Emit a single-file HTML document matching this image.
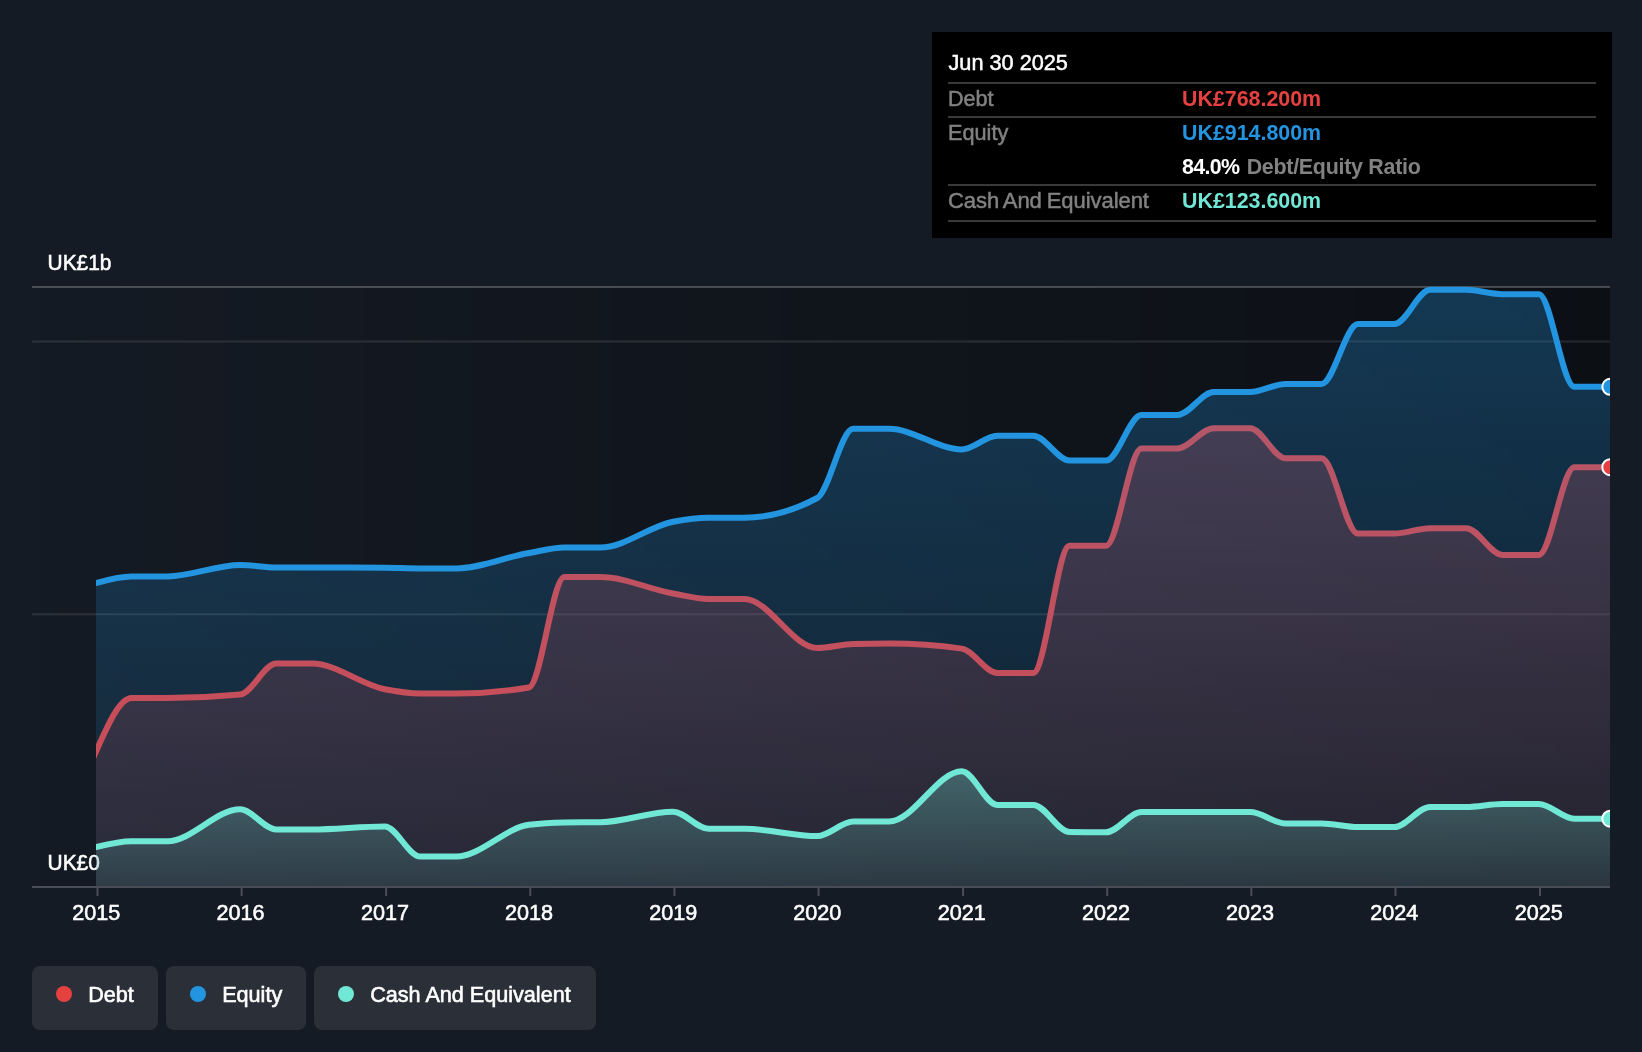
<!DOCTYPE html>
<html><head><meta charset="utf-8"><title>Debt to equity history</title>
<style>
html,body{margin:0;padding:0;}
body{width:1642px;height:1052px;background:#151b24;overflow:hidden;position:relative;
font-family:"Liberation Sans",sans-serif;color:#fff;}
svg{position:absolute;left:0;top:0;}
.xl{position:absolute;top:900.5px;width:100px;text-align:center;font-size:21.6px;line-height:24px;
-webkit-text-stroke:0.55px #fff;}
.ylt{font-family:"Liberation Sans",sans-serif;font-size:21.9px;fill:#fff;stroke:#fff;stroke-width:0.55px;}
#tip{position:absolute;left:932px;top:32px;width:680px;height:206px;background:#000;}
#tip .sep{position:absolute;left:16px;width:648px;height:2px;background:#393939;}
#tip .r{position:absolute;white-space:nowrap;font-size:22px;line-height:24px;}
#tip .lab{left:16px;color:#828282;-webkit-text-stroke:0.5px #828282;}
#tip .val{left:250px;font-weight:bold;font-size:21.4px;}
.lg{position:absolute;top:966px;height:64px;background:#2b3038;border-radius:8px;}
.lg i{position:absolute;left:24px;top:20px;width:16px;height:16px;border-radius:50%;}
.lg span{position:absolute;left:56.2px;top:17px;font-size:21.6px;line-height:24px;white-space:nowrap;-webkit-text-stroke:0.6px #fff;}
#layer{position:absolute;left:0;top:0;width:1642px;height:1052px;will-change:transform;}
</style></head><body>
<div id="layer">
<svg width="1642" height="1052" viewBox="0 0 1642 1052">
<defs>
<linearGradient id="plotbg" x1="0" y1="0" x2="1" y2="0">
<stop offset="0" stop-color="#000" stop-opacity="0"/>
<stop offset="1" stop-color="#000" stop-opacity="0.4"/>
</linearGradient>
<linearGradient id="g_debt" x1="0" y1="0" x2="0" y2="1">
<stop offset="0" stop-color="#e64141" stop-opacity="0.3"/>
<stop offset="1" stop-color="#e64141" stop-opacity="0.1"/>
</linearGradient>
<linearGradient id="g_eq" x1="0" y1="0" x2="0" y2="1">
<stop offset="0" stop-color="#2394df" stop-opacity="0.3"/>
<stop offset="1" stop-color="#2394df" stop-opacity="0.1"/>
</linearGradient>
<linearGradient id="g_cash" x1="0" y1="0" x2="0" y2="1">
<stop offset="0" stop-color="#71e7d6" stop-opacity="0.3"/>
<stop offset="1" stop-color="#71e7d6" stop-opacity="0.1"/>
</linearGradient>
<clipPath id="clip"><rect x="96" y="250" width="1514" height="640"/></clipPath>
</defs>
<rect x="32" y="287" width="1578" height="600" fill="url(#plotbg)"/>
<rect x="32" y="286" width="1578" height="2" fill="#fff" fill-opacity="0.225"/>
<rect x="32" y="340.5" width="1578" height="2" fill="#fff" fill-opacity="0.1"/>
<rect x="32" y="613.3" width="1578" height="2" fill="#fff" fill-opacity="0.1"/>
<text transform="translate(47.6,269.5) scale(0.953,1)" class="ylt">UK£1b</text>
<text transform="translate(47.6,869.5) scale(0.953,1)" class="ylt">UK£0</text>
<g clip-path="url(#clip)">
<path d="M96.00,751.50C107.85,724.75 119.70,698.00 131.55,698.00C143.53,698.00 155.51,698.00 167.49,698.00C191.71,698.00 215.94,696.83 240.16,694.50C252.14,693.35 264.12,663.60 276.10,663.60C288.09,663.60 300.07,663.60 312.05,663.60C336.27,663.60 360.50,684.56 384.72,689.30C396.57,691.62 408.42,693.50 420.27,693.50C432.25,693.50 444.23,693.50 456.21,693.50C480.43,693.50 504.66,691.50 528.88,687.50C540.73,685.54 552.58,577.00 564.43,577.00C576.41,577.00 588.39,577.00 600.37,577.00C624.60,577.00 648.82,589.18 673.05,593.50C684.89,595.61 696.74,599.00 708.59,599.00C720.57,599.00 732.55,599.00 744.53,599.00C768.76,599.00 792.98,648.00 817.21,648.00C829.19,648.00 841.17,644.27 853.15,644.00C865.13,643.73 877.11,643.60 889.09,643.60C913.32,643.60 937.54,645.27 961.77,648.60C973.61,650.23 985.46,673.00 997.31,673.00C1009.29,673.00 1021.27,673.00 1033.25,673.00C1045.37,673.00 1057.48,545.80 1069.59,545.80C1081.70,545.80 1093.82,545.80 1105.93,545.80C1117.78,545.80 1129.63,448.40 1141.48,448.40C1153.46,448.40 1165.44,448.40 1177.42,448.40C1189.53,448.40 1201.64,428.20 1213.75,428.20C1225.87,428.20 1237.98,428.20 1250.09,428.20C1261.94,428.20 1273.79,458.30 1285.64,458.30C1297.62,458.30 1309.60,458.30 1321.58,458.30C1333.69,458.30 1345.80,533.60 1357.92,533.60C1370.03,533.60 1382.14,533.60 1394.25,533.60C1406.23,533.60 1418.21,528.20 1430.20,528.20C1442.18,528.20 1454.16,528.20 1466.14,528.20C1478.25,528.20 1490.36,555.00 1502.47,555.00C1514.59,555.00 1526.70,555.00 1538.81,555.00C1550.66,555.00 1562.51,467.20 1574.36,467.20C1586.34,467.20 1598.32,467.20 1610.30,467.20L1610.30,886.00 L96.00,886.00 Z" fill="url(#g_debt)" stroke="none"/>
<path d="M92.00,760.53 L96.00,751.50C107.85,724.75 119.70,698.00 131.55,698.00C143.53,698.00 155.51,698.00 167.49,698.00C191.71,698.00 215.94,696.83 240.16,694.50C252.14,693.35 264.12,663.60 276.10,663.60C288.09,663.60 300.07,663.60 312.05,663.60C336.27,663.60 360.50,684.56 384.72,689.30C396.57,691.62 408.42,693.50 420.27,693.50C432.25,693.50 444.23,693.50 456.21,693.50C480.43,693.50 504.66,691.50 528.88,687.50C540.73,685.54 552.58,577.00 564.43,577.00C576.41,577.00 588.39,577.00 600.37,577.00C624.60,577.00 648.82,589.18 673.05,593.50C684.89,595.61 696.74,599.00 708.59,599.00C720.57,599.00 732.55,599.00 744.53,599.00C768.76,599.00 792.98,648.00 817.21,648.00C829.19,648.00 841.17,644.27 853.15,644.00C865.13,643.73 877.11,643.60 889.09,643.60C913.32,643.60 937.54,645.27 961.77,648.60C973.61,650.23 985.46,673.00 997.31,673.00C1009.29,673.00 1021.27,673.00 1033.25,673.00C1045.37,673.00 1057.48,545.80 1069.59,545.80C1081.70,545.80 1093.82,545.80 1105.93,545.80C1117.78,545.80 1129.63,448.40 1141.48,448.40C1153.46,448.40 1165.44,448.40 1177.42,448.40C1189.53,448.40 1201.64,428.20 1213.75,428.20C1225.87,428.20 1237.98,428.20 1250.09,428.20C1261.94,428.20 1273.79,458.30 1285.64,458.30C1297.62,458.30 1309.60,458.30 1321.58,458.30C1333.69,458.30 1345.80,533.60 1357.92,533.60C1370.03,533.60 1382.14,533.60 1394.25,533.60C1406.23,533.60 1418.21,528.20 1430.20,528.20C1442.18,528.20 1454.16,528.20 1466.14,528.20C1478.25,528.20 1490.36,555.00 1502.47,555.00C1514.59,555.00 1526.70,555.00 1538.81,555.00C1550.66,555.00 1562.51,467.20 1574.36,467.20C1586.34,467.20 1598.32,467.20 1610.30,467.20" fill="none" stroke="#e64141" stroke-width="6" stroke-linejoin="round"/>
<path d="M96.00,583.00C107.85,579.70 119.70,576.40 131.55,576.40C143.53,576.40 155.51,576.40 167.49,576.40C191.71,576.40 215.94,565.00 240.16,565.00C252.14,565.00 264.12,567.50 276.10,567.50C288.09,567.50 300.07,567.50 312.05,567.50C336.27,567.50 360.50,567.57 384.72,567.70C396.57,567.77 408.42,568.40 420.27,568.40C432.25,568.40 444.23,568.40 456.21,568.40C480.43,568.40 504.66,557.20 528.88,553.00C540.73,550.94 552.58,547.50 564.43,547.50C576.41,547.50 588.39,547.50 600.37,547.50C624.60,547.50 648.82,526.36 673.05,521.70C684.89,519.42 696.74,517.70 708.59,517.70C720.57,517.70 732.55,517.70 744.53,517.70C768.76,517.70 792.98,511.13 817.21,498.00C829.19,491.50 841.17,428.80 853.15,428.80C865.13,428.80 877.11,428.80 889.09,428.80C913.32,428.80 937.54,449.40 961.77,449.40C973.61,449.40 985.46,435.70 997.31,435.70C1009.29,435.70 1021.27,435.70 1033.25,435.70C1045.37,435.70 1057.48,460.60 1069.59,460.60C1081.70,460.60 1093.82,460.60 1105.93,460.60C1117.78,460.60 1129.63,415.00 1141.48,415.00C1153.46,415.00 1165.44,415.00 1177.42,415.00C1189.53,415.00 1201.64,392.00 1213.75,392.00C1225.87,392.00 1237.98,392.00 1250.09,392.00C1261.94,392.00 1273.79,383.90 1285.64,383.90C1297.62,383.90 1309.60,383.90 1321.58,383.90C1333.69,383.90 1345.80,324.00 1357.92,324.00C1370.03,324.00 1382.14,324.00 1394.25,324.00C1406.23,324.00 1418.21,289.80 1430.20,289.80C1442.18,289.80 1454.16,289.80 1466.14,289.80C1478.25,289.80 1490.36,294.20 1502.47,294.20C1514.59,294.20 1526.70,294.20 1538.81,294.20C1550.66,294.20 1562.51,386.80 1574.36,386.80C1586.34,386.80 1598.32,386.80 1610.30,386.80L1610.30,886.00 L96.00,886.00 Z" fill="url(#g_eq)" stroke="none"/>
<path d="M92.00,584.11 L96.00,583.00C107.85,579.70 119.70,576.40 131.55,576.40C143.53,576.40 155.51,576.40 167.49,576.40C191.71,576.40 215.94,565.00 240.16,565.00C252.14,565.00 264.12,567.50 276.10,567.50C288.09,567.50 300.07,567.50 312.05,567.50C336.27,567.50 360.50,567.57 384.72,567.70C396.57,567.77 408.42,568.40 420.27,568.40C432.25,568.40 444.23,568.40 456.21,568.40C480.43,568.40 504.66,557.20 528.88,553.00C540.73,550.94 552.58,547.50 564.43,547.50C576.41,547.50 588.39,547.50 600.37,547.50C624.60,547.50 648.82,526.36 673.05,521.70C684.89,519.42 696.74,517.70 708.59,517.70C720.57,517.70 732.55,517.70 744.53,517.70C768.76,517.70 792.98,511.13 817.21,498.00C829.19,491.50 841.17,428.80 853.15,428.80C865.13,428.80 877.11,428.80 889.09,428.80C913.32,428.80 937.54,449.40 961.77,449.40C973.61,449.40 985.46,435.70 997.31,435.70C1009.29,435.70 1021.27,435.70 1033.25,435.70C1045.37,435.70 1057.48,460.60 1069.59,460.60C1081.70,460.60 1093.82,460.60 1105.93,460.60C1117.78,460.60 1129.63,415.00 1141.48,415.00C1153.46,415.00 1165.44,415.00 1177.42,415.00C1189.53,415.00 1201.64,392.00 1213.75,392.00C1225.87,392.00 1237.98,392.00 1250.09,392.00C1261.94,392.00 1273.79,383.90 1285.64,383.90C1297.62,383.90 1309.60,383.90 1321.58,383.90C1333.69,383.90 1345.80,324.00 1357.92,324.00C1370.03,324.00 1382.14,324.00 1394.25,324.00C1406.23,324.00 1418.21,289.80 1430.20,289.80C1442.18,289.80 1454.16,289.80 1466.14,289.80C1478.25,289.80 1490.36,294.20 1502.47,294.20C1514.59,294.20 1526.70,294.20 1538.81,294.20C1550.66,294.20 1562.51,386.80 1574.36,386.80C1586.34,386.80 1598.32,386.80 1610.30,386.80" fill="none" stroke="#2394df" stroke-width="6" stroke-linejoin="round"/>
<path d="M96.00,847.20C107.85,844.20 119.70,841.20 131.55,841.20C143.53,841.20 155.51,841.20 167.49,841.20C191.71,841.20 215.94,809.30 240.16,809.30C252.14,809.30 264.12,829.40 276.10,829.40C288.09,829.40 300.07,829.40 312.05,829.40C336.27,829.40 360.50,826.40 384.72,826.40C396.57,826.40 408.42,856.60 420.27,856.60C432.25,856.60 444.23,856.60 456.21,856.60C480.43,856.60 504.66,828.07 528.88,824.80C540.73,823.20 552.58,822.53 564.43,822.40C576.41,822.27 588.39,822.33 600.37,822.20C624.60,821.93 648.82,811.70 673.05,811.70C684.89,811.70 696.74,828.80 708.59,828.80C720.57,828.80 732.55,828.80 744.53,828.80C768.76,828.80 792.98,836.10 817.21,836.10C829.19,836.10 841.17,821.60 853.15,821.60C865.13,821.60 877.11,821.60 889.09,821.60C913.32,821.60 937.54,771.20 961.77,771.20C973.61,771.20 985.46,804.90 997.31,804.90C1009.29,804.90 1021.27,804.90 1033.25,804.90C1045.37,804.90 1057.48,831.97 1069.59,832.10C1081.70,832.23 1093.82,832.30 1105.93,832.30C1117.78,832.30 1129.63,812.00 1141.48,812.00C1153.46,812.00 1165.44,812.00 1177.42,812.00C1189.53,812.00 1201.64,812.00 1213.75,812.00C1225.87,812.00 1237.98,812.00 1250.09,812.00C1261.94,812.00 1273.79,823.40 1285.64,823.40C1297.62,823.40 1309.60,823.40 1321.58,823.40C1333.69,823.40 1345.80,827.10 1357.92,827.10C1370.03,827.10 1382.14,827.10 1394.25,827.10C1406.23,827.10 1418.21,807.00 1430.20,807.00C1442.18,807.00 1454.16,807.00 1466.14,807.00C1478.25,807.00 1490.36,804.00 1502.47,804.00C1514.59,804.00 1526.70,804.00 1538.81,804.00C1550.66,804.00 1562.51,818.70 1574.36,818.70C1586.34,818.70 1598.32,818.70 1610.30,818.70L1610.30,886.00 L96.00,886.00 Z" fill="url(#g_cash)" stroke="none"/>
<path d="M92.00,848.21 L96.00,847.20C107.85,844.20 119.70,841.20 131.55,841.20C143.53,841.20 155.51,841.20 167.49,841.20C191.71,841.20 215.94,809.30 240.16,809.30C252.14,809.30 264.12,829.40 276.10,829.40C288.09,829.40 300.07,829.40 312.05,829.40C336.27,829.40 360.50,826.40 384.72,826.40C396.57,826.40 408.42,856.60 420.27,856.60C432.25,856.60 444.23,856.60 456.21,856.60C480.43,856.60 504.66,828.07 528.88,824.80C540.73,823.20 552.58,822.53 564.43,822.40C576.41,822.27 588.39,822.33 600.37,822.20C624.60,821.93 648.82,811.70 673.05,811.70C684.89,811.70 696.74,828.80 708.59,828.80C720.57,828.80 732.55,828.80 744.53,828.80C768.76,828.80 792.98,836.10 817.21,836.10C829.19,836.10 841.17,821.60 853.15,821.60C865.13,821.60 877.11,821.60 889.09,821.60C913.32,821.60 937.54,771.20 961.77,771.20C973.61,771.20 985.46,804.90 997.31,804.90C1009.29,804.90 1021.27,804.90 1033.25,804.90C1045.37,804.90 1057.48,831.97 1069.59,832.10C1081.70,832.23 1093.82,832.30 1105.93,832.30C1117.78,832.30 1129.63,812.00 1141.48,812.00C1153.46,812.00 1165.44,812.00 1177.42,812.00C1189.53,812.00 1201.64,812.00 1213.75,812.00C1225.87,812.00 1237.98,812.00 1250.09,812.00C1261.94,812.00 1273.79,823.40 1285.64,823.40C1297.62,823.40 1309.60,823.40 1321.58,823.40C1333.69,823.40 1345.80,827.10 1357.92,827.10C1370.03,827.10 1382.14,827.10 1394.25,827.10C1406.23,827.10 1418.21,807.00 1430.20,807.00C1442.18,807.00 1454.16,807.00 1466.14,807.00C1478.25,807.00 1490.36,804.00 1502.47,804.00C1514.59,804.00 1526.70,804.00 1538.81,804.00C1550.66,804.00 1562.51,818.70 1574.36,818.70C1586.34,818.70 1598.32,818.70 1610.30,818.70" fill="none" stroke="#71e7d6" stroke-width="6" stroke-linejoin="round"/>

<circle cx="1610.3" cy="386.8" r="8" fill="#2394df" stroke="#fff" stroke-width="2"/>
<circle cx="1610.3" cy="467.2" r="8" fill="#e64141" stroke="#fff" stroke-width="2"/>
<circle cx="1610.3" cy="818.7" r="8" fill="#71e7d6" stroke="#fff" stroke-width="2"/>
</g>
<rect x="32" y="886" width="1578" height="2" fill="#484d56"/>
<rect x="96.50" y="886" width="2" height="10" fill="#484d56"/>
<rect x="240.63" y="886" width="2" height="10" fill="#484d56"/>
<rect x="385.16" y="886" width="2" height="10" fill="#484d56"/>
<rect x="529.29" y="886" width="2" height="10" fill="#484d56"/>
<rect x="673.42" y="886" width="2" height="10" fill="#484d56"/>
<rect x="817.55" y="886" width="2" height="10" fill="#484d56"/>
<rect x="962.08" y="886" width="2" height="10" fill="#484d56"/>
<rect x="1106.21" y="886" width="2" height="10" fill="#484d56"/>
<rect x="1250.34" y="886" width="2" height="10" fill="#484d56"/>
<rect x="1394.47" y="886" width="2" height="10" fill="#484d56"/>
<rect x="1539.00" y="886" width="2" height="10" fill="#484d56"/>

</svg>
<div class="xl" style="left:46.30px">2015</div>
<div class="xl" style="left:190.43px">2016</div>
<div class="xl" style="left:334.96px">2017</div>
<div class="xl" style="left:479.09px">2018</div>
<div class="xl" style="left:623.22px">2019</div>
<div class="xl" style="left:767.35px">2020</div>
<div class="xl" style="left:911.88px">2021</div>
<div class="xl" style="left:1056.01px">2022</div>
<div class="xl" style="left:1200.14px">2023</div>
<div class="xl" style="left:1344.27px">2024</div>
<div class="xl" style="left:1488.80px">2025</div>

<div id="tip">
<div class="r" style="left:16.5px;top:18.5px;font-size:21.7px;-webkit-text-stroke:0.5px #fff;">Jun 30 2025</div>
<div class="sep" style="top:50px"></div>
<div class="r lab" style="top:55px;font-size:21.6px">Debt</div>
<div class="r val" style="top:54.6px;color:#e64141">UK£768.200m</div>
<div class="sep" style="top:84px"></div>
<div class="r lab" style="top:89px;font-size:21.7px">Equity</div>
<div class="r val" style="top:88.6px;color:#2394df">UK£914.800m</div>
<div class="r val" style="top:122.6px;color:#fff"><span style="letter-spacing:-0.65px">84.0%</span> <span style="color:#828282;letter-spacing:-0.26px;margin-left:1.3px">Debt/Equity Ratio</span></div>
<div class="sep" style="top:152px"></div>
<div class="r lab" style="top:157px;word-spacing:-1.2px;letter-spacing:-0.05px">Cash And Equivalent</div>
<div class="r val" style="top:156.6px;color:#71e7d6">UK£123.600m</div>
<div class="sep" style="top:188px"></div>
</div>
<div class="lg" style="left:32px;width:126px"><i style="background:#e64141"></i><span>Debt</span></div>
<div class="lg" style="left:166px;width:140px"><i style="background:#2394df"></i><span>Equity</span></div>
<div class="lg" style="left:314px;width:282px"><i style="background:#71e7d6"></i><span>Cash And Equivalent</span></div>
</div>
</body></html>
